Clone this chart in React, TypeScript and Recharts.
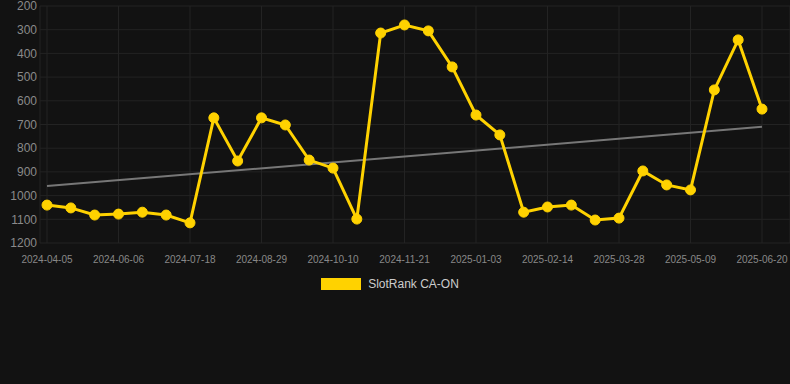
import React from 'react';
import { LineChart, Line, XAxis, YAxis, CartesianGrid, Legend } from 'recharts';

const dates = [
  '2024-04-05', '2024-04-25', '2024-05-16', '2024-06-06', '2024-06-20', '2024-07-04',
  '2024-07-18', '2024-08-01', '2024-08-15', '2024-08-29', '2024-09-12', '2024-09-26',
  '2024-10-10', '2024-10-24', '2024-11-07', '2024-11-21', '2024-12-05', '2024-12-19',
  '2025-01-03', '2025-01-17', '2025-01-31', '2025-02-14', '2025-02-28', '2025-03-14',
  '2025-03-28', '2025-04-11', '2025-04-25', '2025-05-09', '2025-05-23', '2025-06-06',
  '2025-06-20',
];

const rankValues = [
  1040, 1052, 1082, 1078, 1070, 1082, 1115, 672, 854, 672, 702, 850, 884, 1099,
  314, 280, 305, 457, 660, 744, 1070, 1048, 1040, 1103, 1095, 896, 955, 976, 554,
  343, 635,
];

const trendValues: (number | null)[] = dates.map((_, i) =>
  i === 0 ? 960 : i === dates.length - 1 ? 710 : null
);

const xTicks = [
  '2024-04-05', '2024-06-06', '2024-07-18', '2024-08-29', '2024-10-10', '2024-11-21',
  '2025-01-03', '2025-02-14', '2025-03-28', '2025-05-09', '2025-06-20',
];

const yTicks = [200, 300, 400, 500, 600, 700, 800, 900, 1000, 1100, 1200];

const seriesName = 'SlotRank CA-ON';

const data = dates.map((d, i) => ({ date: d, rank: rankValues[i], trend: trendValues[i] }));

const YELLOW = '#ffd200';

const renderLegend = () => (
  <div style={{ display: 'flex', justifyContent: 'center', alignItems: 'center', width: 790 }}>
    <div style={{ display: 'flex', alignItems: 'center', marginLeft: -10 }}>
      <span style={{ display: 'inline-block', width: 40, height: 12, background: YELLOW, marginRight: 7 }} />
      <span style={{ color: '#cccccc', fontSize: 12 }}>{seriesName}</span>
    </div>
  </div>
);

export default function App() {
  return (
    <div
      style={{
        position: 'fixed',
        left: 0,
        top: 0,
        width: 790,
        height: 384,
        background: '#121212',
        fontFamily: '"Liberation Sans", Arial, sans-serif',
      }}
    >
      <LineChart width={790} height={384} data={data} margin={{ top: 6, right: 0, left: 0, bottom: 111 }}>
        <CartesianGrid stroke="#232323" strokeWidth={1} />
        <XAxis
          dataKey="date"
          ticks={xTicks}
          interval={0}
          padding={{ left: 7, right: 28 }}
          tick={{ fill: '#888888', fontSize: 10 }}
          tickLine={false}
          axisLine={false}
          tickSize={8}
          tickMargin={5}
          height={30}
        />
        <YAxis
          reversed
          domain={[200, 1200]}
          ticks={yTicks}
          interval={0}
          width={40}
          tick={{ fill: '#8a8a8a', fontSize: 12 }}
          tickLine={false}
          axisLine={false}
          tickSize={3}
          tickMargin={0}
        />
        <Legend
          layout="horizontal"
          verticalAlign="middle"
          align="center"
          content={renderLegend}
          wrapperStyle={{ top: 277, left: 0, width: 790 }}
        />
        <Line
          type="linear"
          dataKey="trend"
          stroke="#777777"
          strokeWidth={2}
          dot={false}
          activeDot={false}
          connectNulls
          isAnimationActive={false}
          legendType="none"
        />
        <Line
          type="linear"
          dataKey="rank"
          name={seriesName}
          stroke={YELLOW}
          strokeWidth={3}
          dot={{ r: 5, fill: YELLOW, stroke: YELLOW, strokeWidth: 1 }}
          activeDot={false}
          isAnimationActive={false}
        />
      </LineChart>
    </div>
  );
}
